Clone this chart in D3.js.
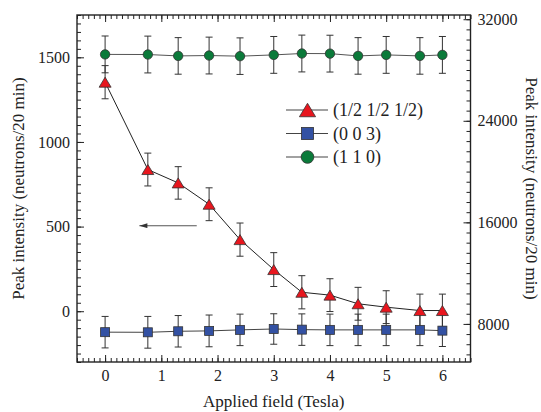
<!DOCTYPE html>
<html>
<head>
<meta charset="utf-8">
<script src="https://cdn.jsdelivr.net/npm/d3@7"></script>
<style>
body { margin: 0; background: #fff; }
text { font-family: "Liberation Serif", "Times New Roman", serif; fill: #222; }
</style>
</head>
<body>
<div id="chart"></div>
<script>
// applied field (Tesla)
const fieldT = [0, 0.76, 1.3, 1.85, 2.4, 3.0, 3.5, 4.0, 4.5, 5.0, 5.6, 6.0];
// (1/2 1/2 1/2) -> left axis
const peakHalf = [1353, 837, 758, 632, 423, 246, 112, 95, 44, 24, 4, 4];
const errHalf = [98, 97, 96, 97, 98, 100, 98, 97, 97, 97, 97, 97];
// (0 0 3) -> right axis
const peak003 = [7350, 7340, 7420, 7450, 7530, 7600, 7550, 7530, 7530, 7530, 7530, 7470];
const err003 = [1240, 1250, 1240, 1250, 1240, 1200, 1240, 1240, 1240, 1240, 1240, 1250];
// (1 1 0) -> right axis
const peak110 = [29230, 29220, 29110, 29140, 29090, 29190, 29300, 29290, 29110, 29190, 29110, 29190];
const err110 = [1450, 1450, 1440, 1450, 1440, 1450, 1450, 1450, 1440, 1450, 1440, 1450];

const xTicks = [0, 1, 2, 3, 4, 5, 6];
const yTicksLeft = [0, 500, 1000, 1500];
const yTicksRight = [8000, 16000, 24000, 32000];
const legendLabels = ["(1/2 1/2 1/2)", "(0 0 3)", "(1 1 0)"];

const W = 541, H = 412;
const m = {left: 77, right: 70.5, top: 15, bottom: 50};
const iw = W - m.left - m.right, ih = H - m.top - m.bottom;

const svg = d3.select("#chart").append("svg")
    .attr("width", W)
    .attr("height", H);

const x = d3.scaleLinear().domain([-0.5, 6.5]).range([0, iw]);
const yL = d3.scaleLinear().domain([-300, 1750]).range([ih, 0]);
const yR = d3.scaleLinear().domain([5000, 32333]).range([ih, 0]);

const g = svg.append("g").attr("transform", "translate(" + m.left + "," + m.top + ")");

// minor ticks
function minor(axis, vals, tr) {
    g.append("g").attr("transform", tr)
        .call(axis.tickValues(vals).tickSize(-4).tickFormat(""))
        .call(s => s.select(".domain").remove());
}
minor(d3.axisBottom(x), d3.range(-0.5, 6.51, 0.1), "translate(0," + ih + ")");
minor(d3.axisTop(x), d3.range(-0.5, 6.51, 0.1), "translate(0,0)");
minor(d3.axisLeft(yL), d3.range(-300, 1751, 50), "translate(0,0)");
minor(d3.axisRight(yR), d3.range(5600, 32333, 800), "translate(" + iw + ",0)");

// major ticks
const fmt = d3.format("d");
g.append("g").attr("transform", "translate(0," + ih + ")")
    .call(d3.axisBottom(x).tickValues(xTicks).tickSize(-7).tickPadding(8).tickFormat(fmt))
    .call(s => s.select(".domain").remove());
g.append("g")
    .call(d3.axisTop(x).tickValues(xTicks).tickSize(-7).tickFormat(""))
    .call(s => s.select(".domain").remove());
g.append("g")
    .call(d3.axisLeft(yL).tickValues(yTicksLeft).tickSize(-7).tickPadding(7).tickFormat(fmt))
    .call(s => s.select(".domain").remove());
g.append("g").attr("transform", "translate(" + iw + ",0)")
    .call(d3.axisRight(yR).tickValues(yTicksRight).tickSize(-7).tickPadding(7).tickFormat(fmt))
    .call(s => s.select(".domain").remove());

g.selectAll(".tick line").attr("stroke", "#222").attr("stroke-width", 1);
g.selectAll(".tick text").style("font-size", "16px").attr("fill", "#222");

g.append("rect").attr("width", iw).attr("height", ih)
    .attr("fill", "none").attr("stroke", "#222").attr("stroke-width", 1.4);

// axis titles
svg.append("text")
    .attr("x", m.left + iw / 2).attr("y", 407)
    .attr("text-anchor", "middle").style("font-size", "17px")
    .text("Applied field (Tesla)");
svg.append("text")
    .attr("transform", "translate(24," + (m.top + ih / 2) + ") rotate(-90)")
    .attr("text-anchor", "middle").style("font-size", "17px")
    .text("Peak intensity (neutrons/20 min)");
svg.append("text")
    .attr("transform", "translate(526," + (m.top + ih / 2) + ") rotate(90)")
    .attr("text-anchor", "middle").style("font-size", "17px")
    .text("Peak intensity (neutrons/20 min)");

// series
const series = [
    {vals: peakHalf, errs: errHalf, y: yL, fill: "#e8161e", line: "#222", shape: "tri"},
    {vals: peak003, errs: err003, y: yR, fill: "#3351a3", line: "#444", shape: "sq"},
    {vals: peak110, errs: err110, y: yR, fill: "#0b7a3a", line: "#555", shape: "circ"}
];

function marker(sel, shape, s) {
    if (shape === "tri") {
        sel.append("path").attr("d", "M0," + (-5 * s) + "L" + (6 * s) + "," + (5 * s) + "L" + (-6 * s) + "," + (5 * s) + "Z");
    } else if (shape === "sq") {
        sel.append("rect").attr("x", -4.5 * s).attr("y", -4.5 * s).attr("width", 9 * s).attr("height", 9 * s);
    } else {
        sel.append("circle").attr("r", 4.7 * s);
    }
}

// error bars first
series.forEach(sr => {
    const eb = g.append("g").attr("stroke", "#333").attr("stroke-width", 1);
    fieldT.forEach((f, i) => {
        const cx = x(f), y0 = sr.y(sr.vals[i] - sr.errs[i]), y1 = sr.y(sr.vals[i] + sr.errs[i]);
        eb.append("line").attr("x1", cx).attr("x2", cx).attr("y1", y0).attr("y2", y1);
        eb.append("line").attr("x1", cx - 3.5).attr("x2", cx + 3.5).attr("y1", y0).attr("y2", y0);
        eb.append("line").attr("x1", cx - 3.5).attr("x2", cx + 3.5).attr("y1", y1).attr("y2", y1);
    });
});

series.forEach(sr => {
    const line = d3.line().x((d, i) => x(fieldT[i])).y(d => sr.y(d));
    g.append("path").datum(sr.vals)
        .attr("d", line).attr("fill", "none")
        .attr("stroke", sr.line).attr("stroke-width", 1);
});

series.forEach(sr => {
    sr.vals.forEach((v, i) => {
        const mk = g.append("g")
            .attr("transform", "translate(" + x(fieldT[i]) + "," + sr.y(v) + ")")
            .attr("fill", sr.fill).attr("stroke", "#333").attr("stroke-width", 0.8);
        marker(mk, sr.shape, 1);
    });
});

// arrow pointing to left axis
svg.append("defs").append("marker")
    .attr("id", "ah").attr("viewBox", "0 0 10 6")
    .attr("refX", 10).attr("refY", 3)
    .attr("markerWidth", 8).attr("markerHeight", 4)
    .attr("orient", "auto")
    .append("path").attr("d", "M0,0L10,3L0,6Z").attr("fill", "#333");
g.append("line")
    .attr("x1", x(1.63)).attr("x2", x(0.61))
    .attr("y1", yL(505)).attr("y2", yL(505))
    .attr("stroke", "#555").attr("stroke-width", 1.2)
    .attr("marker-end", "url(#ah)");

// legend
const lg = svg.append("g").attr("transform", "translate(286,110)");
series.forEach((sr, i) => {
    const row = lg.append("g").attr("transform", "translate(0," + (i * 23.5) + ")");
    row.append("line").attr("x1", 0).attr("x2", 42).attr("stroke", "#444").attr("stroke-width", 1.1);
    const mk = row.append("g").attr("transform", "translate(21.5,0)")
        .attr("fill", sr.fill).attr("stroke", "#333").attr("stroke-width", 0.8);
    marker(mk, sr.shape, 1.35);
    row.append("text").attr("x", 47).attr("dy", "0.35em")
        .style("font-size", "18px").text(legendLabels[i]);
});
</script>
</body>
</html>
